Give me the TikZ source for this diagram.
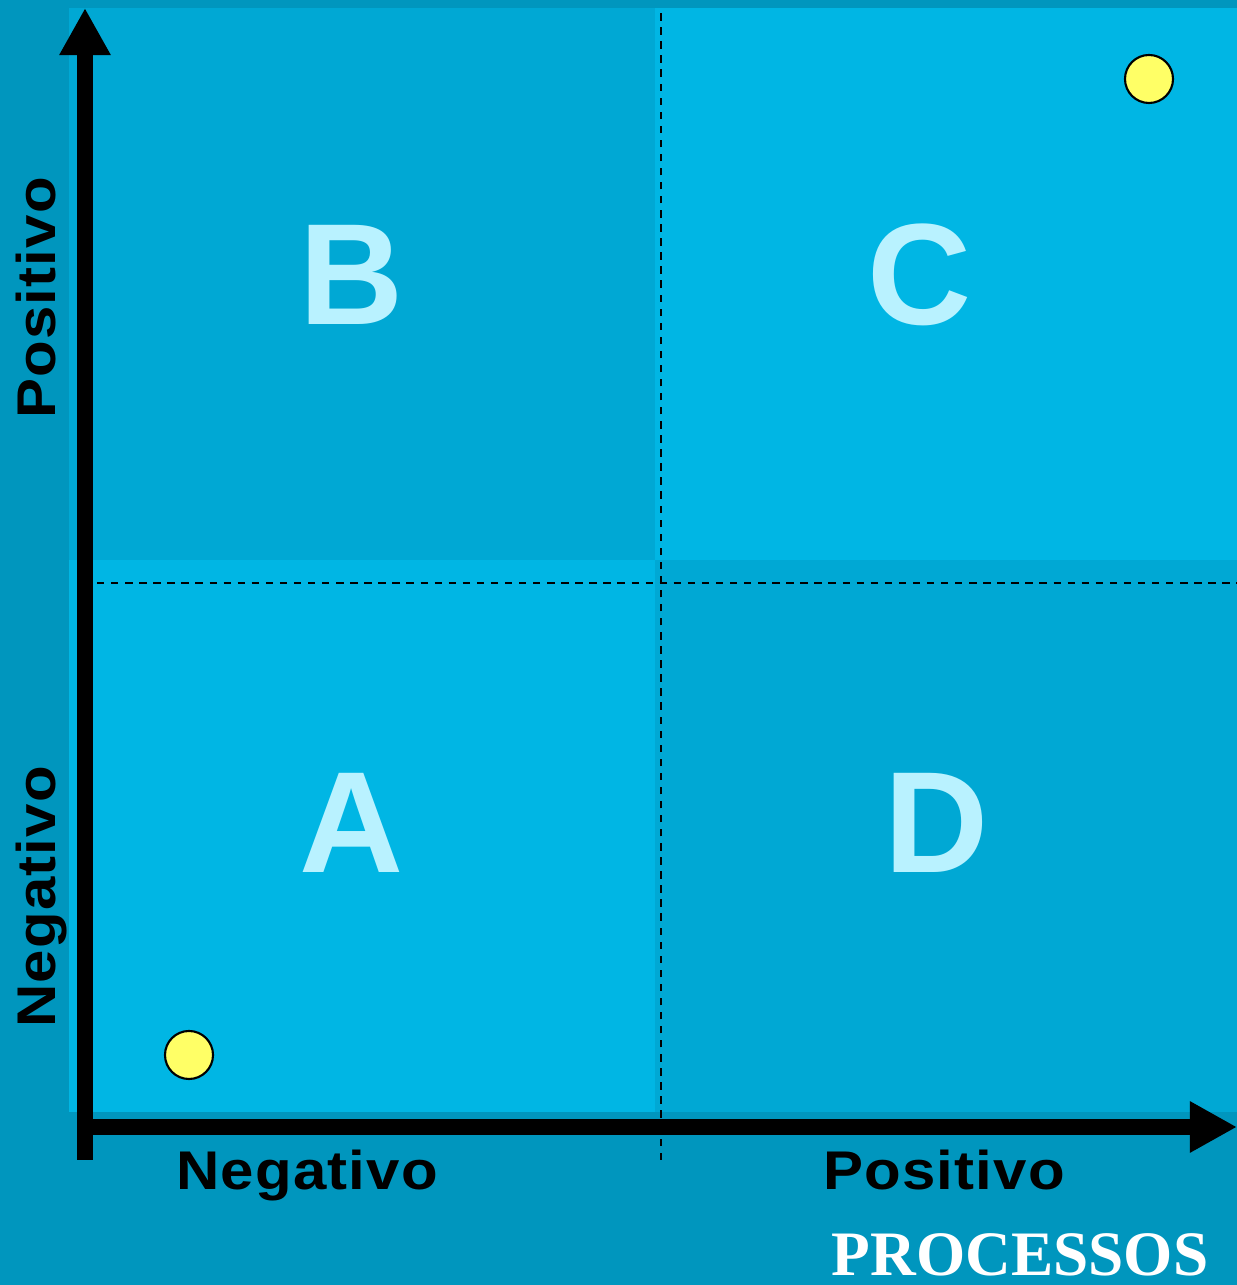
\documentclass[tikz,border=0pt]{standalone}
\usepackage{fontspec}
\setmainfont{Liberation Sans}
\newfontfamily\axisfont[LetterSpace=2]{Liberation Sans}
\newfontfamily\titlefont{Liberation Serif}
\usetikzlibrary{arrows.meta,positioning}

\definecolor{bgouter}{RGB}{0,150,190}
\definecolor{quaddark}{RGB}{0,168,212}
\definecolor{quadlight}{RGB}{0,182,228}
\definecolor{lettercol}{RGB}{185,242,255}
\definecolor{dotyellow}{RGB}{255,255,102}

\newcommand{\widelabel}[1]{\scalebox{1.1}[1]{#1}}

\tikzset{
  axis/.style={line width=0.16cm,-{Triangle[length=0.47cm,width=0.48cm]}},
  grid line/.style={line width=0.22mm,dash pattern=on 2.1pt off 1.9pt},
  letter/.style={font=\fontsize{41}{41}\selectfont\bfseries,text=lettercol,inner sep=0pt},
  axislabel/.style={font=\fontsize{15.5}{15.5}\selectfont\axisfont\bfseries,inner sep=0pt,anchor=base},
  dot/.style={circle,draw,line width=0.6pt,fill=dotyellow,minimum size=0.48cm,inner sep=0pt}
}

\begin{document}
\begin{tikzpicture}[x=0.01cm,y=0.01cm]
      \useasboundingbox (0,0) rectangle (1237,1285);
      \fill[bgouter] (0,0) rectangle (1237,1285);

      % quadrants
      \fill[quaddark]  (69,725) rectangle (655,1277);
      \fill[quadlight] (655,725) rectangle (1237,1277);
      \fill[quadlight] (69,173) rectangle (655,725);
      \fill[quaddark]  (655,173) rectangle (1237,725);

      \node[letter] (qB) at (352,1010) {B};
      \node[letter] (qC) at (920,1010) {C};
      \node[letter] (qA) at (352,462)  {A};
      \node[letter] (qD) at (937,462)  {D};

      % dashed dividers
      \coordinate (vtop) at (661,1277);
      \coordinate (vbot) at (661,125);
      \coordinate (hleft) at (97,702);
      \coordinate (hright) at (1237,702);
      \draw[grid line] (vbot) -- (vtop);
      \draw[grid line] (hleft) -- (hright);

      % axes
      \coordinate (yfoot) at (85,125);
      \coordinate (ytip)  at (85,1277);
      \coordinate (xfoot) at (77,158);
      \coordinate (xtip)  at (1237,158);
      \draw[axis] (yfoot) -- (ytip);
      \draw[axis] (xfoot) -- (xtip);

      \node[dot] (low)  at (189,230)  {};
      \node[dot] (high) at (1149,1206) {};

      \node[axislabel] (xneg) at (307,95) {\widelabel{Negativo}};
      \node[axislabel] (xpos) at (944,95) {\widelabel{Positivo}};
      \node[axislabel,rotate=90] (ypos) at (55,987) {\widelabel{Positivo}};
      \node[axislabel,rotate=90] (yneg) at (55,388) {\widelabel{Negativo}};

      \node[font=\fontsize{18}{18}\selectfont\titlefont\bfseries,text=white,inner sep=0pt,
            text depth=0pt,anchor=base] (proc) at (1020,9) {PROCESSOS};
\end{tikzpicture}
\end{document}
